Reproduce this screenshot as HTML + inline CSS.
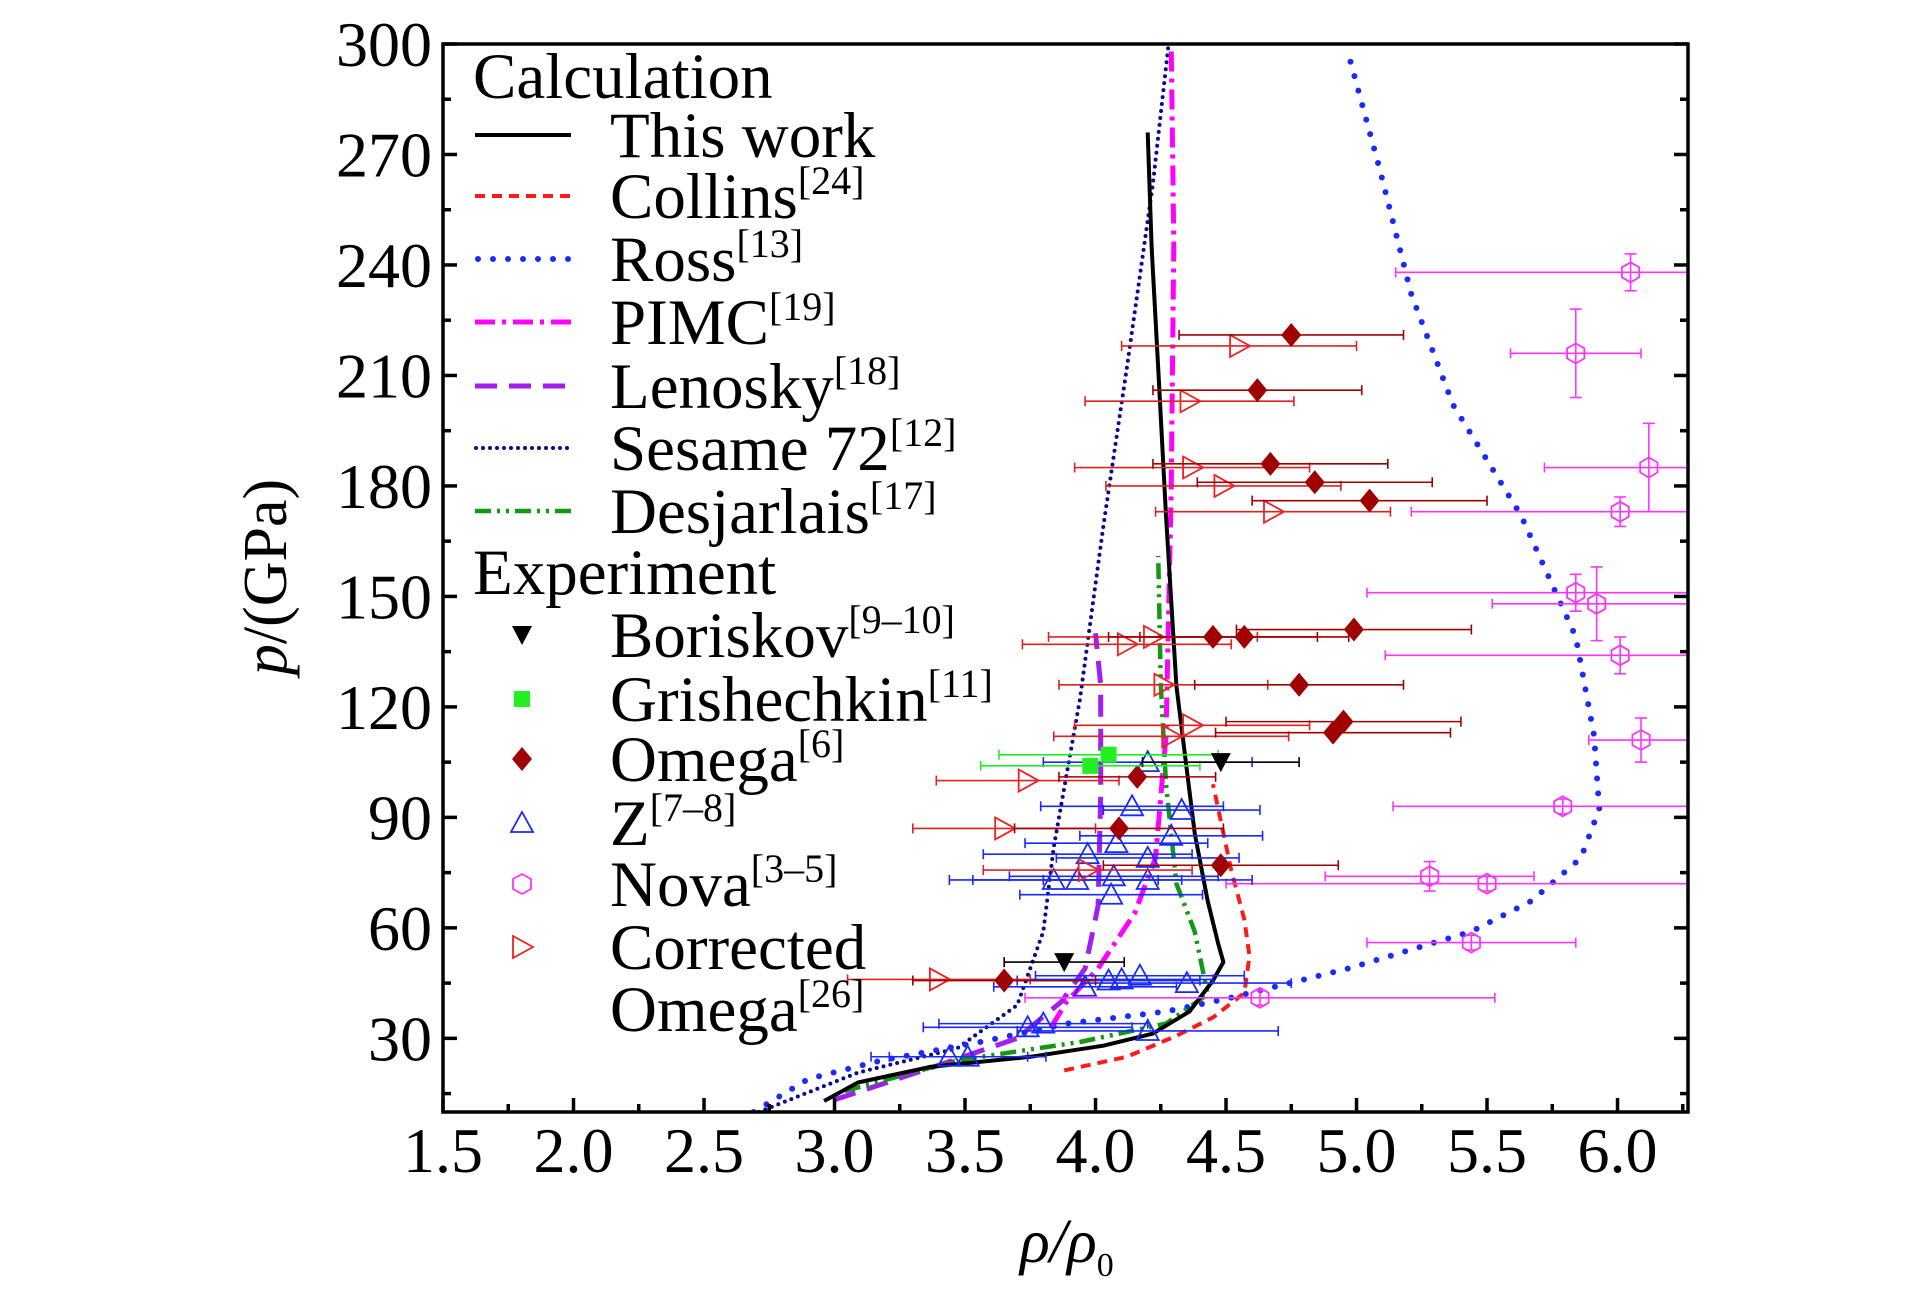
<!DOCTYPE html>
<html><head><meta charset="utf-8"><style>
html,body{margin:0;padding:0;background:#fff}
svg{display:block;font-family:"Liberation Serif",serif}
</style></head><body>
<svg id="chart" width="1923" height="1299" viewBox="0 0 1923 1299" xmlns="http://www.w3.org/2000/svg"></svg>
<script>
// ---- data arrays ----
const xTicks=[1.5,2.0,2.5,3.0,3.5,4.0,4.5,5.0,5.5,6.0];
const xTickLabels=["1.5","2.0","2.5","3.0","3.5","4.0","4.5","5.0","5.5","6.0"];
const yTicks=[30,60,90,120,150,180,210,240,270,300];
const yTickLabels=["30","60","90","120","150","180","210","240","270","300"];
const thisWorkX=[2.96,3.09,3.37,3.75,4.03,4.22,4.36,4.45,4.49,4.47,4.43,4.38,4.31,4.27,4.24,4.215,4.20];
const thisWorkY=[13,18,22.3,25,28,31.3,37.3,45.7,50.7,55.7,67.3,85.7,125.7,172,212,245,276];
const collinsX=[3.88,4.12,4.31,4.45,4.57,4.59,4.57,4.52,4.48,4.45];
const collinsY=[21.3,25,30.7,35.7,42.3,52.3,62.3,75.7,89,99];
const rossX=[2.69,2.90,3.18,3.56,3.89,4.27,4.50,4.97,5.44,5.67,5.86,5.93,5.91,5.84,5.63,5.37,5.21,5.09,4.97];
const rossY=[10,19,24,29,34,37.3,40.7,49,59,67.3,79,92.3,112.3,139,172,202,232,265.7,297];
const pimcX=[3.83,3.89,4.01,4.15,4.23,4.27,4.29,4.30,4.29];
const pimcY=[33,40,49,64,79,112,179,246,300];
const lenoskyX=[3.0,3.37,3.70,3.87,3.96,4.01,4.02,4.02,4.0];
const lenoskyY=[13.3,22,30,40,49,66,96,126,140];
const sesameX=[2.71,3.09,3.47,3.70,3.80,3.84,3.94,4.03,4.12,4.22,4.28];
const sesameY=[10,20.7,27.3,39,59,82,122,169,212,262,300];
const desjX=[3.04,3.47,3.94,4.27,4.43,4.38,4.31,4.27,4.25,4.24];
const desjY=[15.7,24,29,34,42,59,72,99,126,161];
const borX=[4.48,3.88], borY=[105,50.7], borE=[0.3,0.23];
const griX=[3.98,4.05], griY=[104,107], griE=[0.42,0.42];
const omX=[4.75,4.62,4.67,4.84,5.05,4.99,4.57,4.45,4.78,4.95,4.91,4.16,4.09,4.48,3.65];
const omY=[221,206,186,181,176,141,139,139,126,116,113,101,87,77,45.7];
const omE=[0.43,0.4,0.45,0.45,0.45,0.45,0.4,0.4,0.4,0.45,0.45,0.3,0.4,0.45,0.35];
const coX=[4.55,4.36,4.37,4.49,4.68,4.22,4.12,4.26,4.37,4.29,3.74,3.65,3.97,3.40];
const coY=[218,203,185,180,173,139,137,126,115,112,100,87,75.7,46];
const coE=[0.45,0.4,0.45,0.45,0.45,0.4,0.4,0.4,0.45,0.45,0.35,0.35,0.4,0.35];
const zX=[4.20,4.14,4.33,4.08,4.29,3.97,4.20,3.84,3.93,4.07,4.20,4.06,3.96,4.05,4.10,4.17,4.35,3.74,3.80,4.20,3.44,3.51];
const zY=[105,93,92,83,85,80,79,73,73,74,73,69,44,45.7,46,47,45,33,34,32,25,25];
const zE=[0.4,0.35,0.3,0.35,0.35,0.4,0.35,0.4,0.4,0.4,0.4,0.35,0.35,0.35,0.35,0.4,0.4,0.4,0.4,0.5,0.3,0.3];
const novaX=[6.05,5.84,6.12,6.01,5.84,5.92,6.01,6.09,5.79,5.28,5.50,5.44,4.63];
const novaY=[238,216,185,173,151,148,134,111,93,74,72,56,41];
const novaE=[0.9,0.25,0.4,0.8,0.8,0.4,0.9,0.2,0.65,0.4,1.0,0.4,0.9];
const novaYE=[5,12,12,4,5,10,5,6,2,4,2,2,2];

const NS="http://www.w3.org/2000/svg";
const svg=document.getElementById('chart');
const L=443,R=1688,T=44,B=1112,XMIN=1.5,XMAX=6.27,YMIN=10,YMAX=300;
const sx=v=>L+(v-XMIN)/(XMAX-XMIN)*(R-L);
const sy=v=>B-(v-YMIN)/(YMAX-YMIN)*(B-T);
function mk(tag,attrs,parent){const e=document.createElementNS(NS,tag);for(const k in attrs)e.setAttribute(k,attrs[k]);(parent||svg).appendChild(e);return e;}

const defs=mk('defs',{});
const cp=mk('clipPath',{id:'clip'},defs);
mk('rect',{x:L,y:T,width:R-L,height:B-T},cp);
const plot=mk('g',{'clip-path':'url(#clip)'});



function line(xs,ys,style,name){
  const d=xs.map((x,i)=>(i?'L':'M')+sx(x).toFixed(1)+','+sy(ys[i]).toFixed(1)).join(' ');
  const p=mk('path',Object.assign({d:d,fill:'none','stroke-linejoin':'round'},style),plot);
  
  
}
const styles={
 collins:{stroke:'#ff1a1a','stroke-width':4,'stroke-dasharray':'10 7'},
 ross:{stroke:'#1a2aff','stroke-width':6,'stroke-dasharray':'0 15','stroke-linecap':'round'},
 pimc:{stroke:'#ff00ff','stroke-width':5,'stroke-dasharray':'20 7 4 7'},
 lenosky:{stroke:'#a020f0','stroke-width':5,'stroke-dasharray':'22 12'},
 sesame:{stroke:'#0a0a90','stroke-width':4,'stroke-dasharray':'0 7','stroke-linecap':'round'},
 desj:{stroke:'#119911','stroke-width':4.5,'stroke-dasharray':'16 6 3 6 3 6'},
 thiswork:{stroke:'#000','stroke-width':4}
};
line(sesameX,sesameY,styles.sesame,'sesame-curve');
line(rossX,rossY,styles.ross,'ross-curve');
line(lenoskyX,lenoskyY,styles.lenosky,'lenosky-curve');
line(pimcX,pimcY,styles.pimc,'pimc-curve');
line(collinsX,collinsY,styles.collins,'collins-curve');
line(desjX,desjY,styles.desj,'desjarlais-curve');
line(thisWorkX,thisWorkY,styles.thiswork,'this-work-curve');

function ebar(x,y,e,ye,color,g){
  const x1=sx(x-e),x2=sx(x+e),yy=sy(y);
  mk('line',{x1:x1,x2:x2,y1:yy,y2:yy,stroke:color,'stroke-width':1.6},g);
  mk('line',{x1:x1,x2:x1,y1:yy-5,y2:yy+5,stroke:color,'stroke-width':1.6},g);
  mk('line',{x1:x2,x2:x2,y1:yy-5,y2:yy+5,stroke:color,'stroke-width':1.6},g);
  if(ye){const a=sy(y+ye),b=sy(y-ye),xx=sx(x);
    mk('line',{x1:xx,x2:xx,y1:a,y2:b,stroke:color,'stroke-width':1.6},g);
    mk('line',{x1:xx-6,x2:xx+6,y1:a,y2:a,stroke:color,'stroke-width':1.6},g);
    mk('line',{x1:xx-6,x2:xx+6,y1:b,y2:b,stroke:color,'stroke-width':1.6},g);}
}
function marker(type,cx,cy,parent){
  let e;
  if(type==='tri-down') e=mk('polygon',{points:`${cx-10},${cy-9} ${cx+10},${cy-9} ${cx},${cy+10}`,fill:'#000'},parent);
  else if(type==='square') e=mk('rect',{x:cx-8,y:cy-8,width:16,height:16,fill:'#22ee22'},parent);
  else if(type==='diamond') e=mk('polygon',{points:`${cx},${cy-12} ${cx+10},${cy} ${cx},${cy+12} ${cx-10},${cy}`,fill:'#a00000'},parent);
  else if(type==='tri-up') e=mk('polygon',{points:`${cx},${cy-11} ${cx+11},${cy+9} ${cx-11},${cy+9}`,fill:'none',stroke:'#1a2aff','stroke-width':1.8},parent);
  else if(type==='hex'){let pts=[];for(let i=0;i<6;i++){const a=Math.PI/6+i*Math.PI/3;pts.push((cx+10*Math.cos(a)).toFixed(1)+','+(cy+10*Math.sin(a)).toFixed(1));}
    e=mk('polygon',{points:pts.join(' '),fill:'none',stroke:'#ff33ff','stroke-width':1.8},parent);}
  else if(type==='tri-right') e=mk('polygon',{points:`${cx-9},${cy-11} ${cx+11},${cy} ${cx-9},${cy+11}`,fill:'none',stroke:'#ee2222','stroke-width':1.8},parent);
  return e;
}
function scatter(xs,ys,es,yes,type,color,name){
  const g=mk('g',{},plot);
  
  
  xs.forEach((x,i)=>{ebar(x,ys[i],es[i],yes?yes[i]:0,color,g);});
  xs.forEach((x,i)=>{const m=marker(type,sx(x),sy(ys[i]),g);
    
    });
}
scatter(novaX,novaY,novaE,novaYE,'hex','#ff33ff','nova');
scatter(zX,zY,zE,null,'tri-up','#1a2aff','z');
scatter(coX,coY,coE,null,'tri-right','#dd2222','corrected-omega');
scatter(omX,omY,omE,null,'diamond','#a00000','omega');
scatter(griX,griY,griE,null,'square','#22ee22','grishechkin');
scatter(borX,borY,borE,null,'tri-down','#000','boriskov');

// axes
const ax=mk('rect',{x:L,y:T,width:R-L,height:B-T,fill:'none',stroke:'#000','stroke-width':3.5});


const tg=mk('g',{'font-size':64,fill:'#000'});


xTicks.forEach((v,i)=>{const x=sx(v);
  mk('line',{x1:x,x2:x,y1:B,y2:B-14,stroke:'#000','stroke-width':3.5},tg);
  if(v+0.25<XMAX) mk('line',{x1:sx(v+0.25),x2:sx(v+0.25),y1:B,y2:B-8,stroke:'#000','stroke-width':3.5},tg);
  const t=mk('text',{x:x,y:1172,'text-anchor':'middle'},tg);t.textContent=xTickLabels[i];
  
  });
yTicks.forEach((v,i)=>{const y=sy(v);
  mk('line',{x1:L,x2:L+14,y1:y,y2:y,stroke:'#000','stroke-width':3.5},tg);
  mk('line',{x1:R,x2:R-14,y1:y,y2:y,stroke:'#000','stroke-width':3.5},tg);
  mk('line',{x1:L,x2:L+8,y1:sy(v-15),y2:sy(v-15),stroke:'#000','stroke-width':3.5},tg);
  mk('line',{x1:R,x2:R-8,y1:sy(v-15),y2:sy(v-15),stroke:'#000','stroke-width':3.5},tg);
  const t=mk('text',{x:432,y:y+22,'text-anchor':'end'},tg);t.textContent=yTickLabels[i];
  
  });
</script>
<svg style="position:absolute;left:0;top:0" width="1923" height="1299" font-family="Liberation Serif, serif">
<text x="286" y="577" font-size="62" text-anchor="middle" transform="rotate(-90 286 577)"><tspan font-style="italic">p</tspan>/(GPa)</text>
<text x="1020" y="1262" font-size="62" font-style="italic">ρ/ρ<tspan font-size="34" dy="14" font-style="normal">0</tspan></text>
<g font-size="65">
<text x="473" y="98">Calculation</text>
<line x1="475" x2="571" y1="135" y2="135" stroke="#000" stroke-width="4"/>
<text x="610" y="157">This work</text>
<line x1="475" x2="571" y1="196" y2="196" stroke="#ff1a1a" stroke-width="4" stroke-dasharray="10 7"/>
<text x="610" y="218">Collins<tspan font-size="40" dy="-24">[24]</tspan></text>
<line x1="478" x2="571" y1="259" y2="259" stroke="#1a2aff" stroke-width="6" stroke-dasharray="0 15" stroke-linecap="round"/>
<text x="610" y="281">Ross<tspan font-size="40" dy="-24">[13]</tspan></text>
<line x1="475" x2="571" y1="322" y2="322" stroke="#ff00ff" stroke-width="5" stroke-dasharray="20 7 4 7"/>
<text x="610" y="344">PIMC<tspan font-size="40" dy="-24">[19]</tspan></text>
<line x1="475" x2="571" y1="386" y2="386" stroke="#a020f0" stroke-width="5" stroke-dasharray="22 12"/>
<text x="610" y="408">Lenosky<tspan font-size="40" dy="-24">[18]</tspan></text>
<line x1="476" x2="571" y1="448" y2="448" stroke="#0a0a90" stroke-width="4" stroke-dasharray="0 7" stroke-linecap="round"/>
<text x="610" y="470">Sesame 72<tspan font-size="40" dy="-24">[12]</tspan></text>
<line x1="475" x2="571" y1="511" y2="511" stroke="#119911" stroke-width="4.5" stroke-dasharray="16 6 3 6 3 6"/>
<text x="610" y="533">Desjarlais<tspan font-size="40" dy="-24">[17]</tspan></text>
<text x="473" y="594">Experiment</text>
<polygon points="512,626 532,626 522,645" fill="#000"/>
<text x="610" y="657">Boriskov<tspan font-size="40" dy="-24">[9–10]</tspan></text>
<rect x="514" y="691" width="16" height="16" fill="#22ee22"/>
<text x="610" y="721">Grishechkin<tspan font-size="40" dy="-24">[11]</tspan></text>
<polygon points="522,747 532,759 522,771 512,759" fill="#a00000"/>
<text x="610" y="781">Omega<tspan font-size="40" dy="-24">[6]</tspan></text>
<polygon points="522,812 533,832 511,832" fill="none" stroke="#1a2aff" stroke-width="1.8"/>
<text x="610" y="845">Z<tspan font-size="40" dy="-24">[7–8]</tspan></text>
<polygon points="531,889 522,894 513,889 513,879 522,874 531,879" fill="none" stroke="#ff33ff" stroke-width="1.8"/>
<text x="610" y="906">Nova<tspan font-size="40" dy="-24">[3–5]</tspan></text>
<polygon points="513,936 533,947 513,958" fill="none" stroke="#ee2222" stroke-width="1.8"/>
<text x="610" y="969">Corrected</text>
<text x="610" y="1031">Omega<tspan font-size="40" dy="-24">[26]</tspan></text>
</g>
</svg>
</body></html>
